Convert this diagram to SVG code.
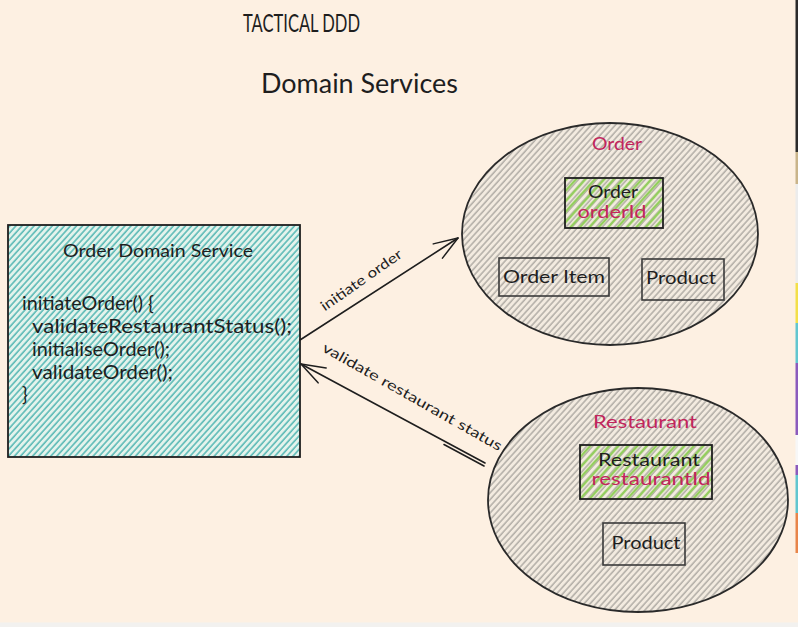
<svg xmlns="http://www.w3.org/2000/svg" width="798" height="627" viewBox="0 0 798 627">
  <defs>
    <pattern id="hTeal" width="4.5" height="4.5" patternUnits="userSpaceOnUse" patternTransform="rotate(42)">
      <rect width="4.5" height="4.5" fill="#e4f3ec"/>
      <line x1="1" y1="0" x2="1" y2="4.5" stroke="#5cbab6" stroke-width="1.6"/>
    </pattern>
    <pattern id="hGray" width="4.5" height="4.5" patternUnits="userSpaceOnUse" patternTransform="rotate(42)">
      <rect width="4.5" height="4.5" fill="#f3ebe0"/>
      <line x1="1" y1="0" x2="1" y2="4.5" stroke="#aca8a1" stroke-width="1.4"/>
    </pattern>
    <pattern id="hGreen" width="7" height="7" patternUnits="userSpaceOnUse" patternTransform="rotate(42)">
      <line x1="2" y1="0" x2="2" y2="7" stroke="#93cf5d" stroke-width="2.4"/>
    </pattern>
    <marker id="arr" markerUnits="userSpaceOnUse" markerWidth="30" markerHeight="24" refX="0" refY="0" viewBox="-28 -12 30 24" orient="auto" overflow="visible">
      <path d="M -24 -8.5 L 0 0 L -24 8.5" fill="none" stroke="#1e1e1e" stroke-width="1.5" stroke-linecap="round" stroke-linejoin="round"/>
    </marker>
    <style>
      .t { font-family: "Lato", "Liberation Sans", sans-serif; fill: #1e1e1e; }
      .code { font-size: 19px; }
      .red { fill: #c2255c; }
      .box { stroke: #1e1e1e; stroke-width: 1.8; }
      .sub { fill: none; stroke: #3a3a3a; stroke-width: 1.6; }
      .conn { fill: none; stroke: #1e1e1e; stroke-width: 1.6; stroke-linecap: round; }
    </style>
  </defs>

  <rect width="798" height="627" fill="#fdf0e2"/>
  <!-- screenshot edges -->
  <rect x="0" y="622.5" width="798" height="4.5" fill="#f2f1ef"/>
  <g id="edge-strip">
    <rect x="795.5" y="0" width="2.5" height="152" fill="#2b2b2b"/>
    <rect x="795.5" y="152" width="2.5" height="32" fill="#c9b48a"/>
    <rect x="795.5" y="184" width="2.5" height="99" fill="#ececec"/>
    <rect x="795.5" y="283" width="2.5" height="40" fill="#f3df4a"/>
    <rect x="795.5" y="323" width="2.5" height="40" fill="#62c6cf"/>
    <rect x="795.5" y="363" width="2.5" height="72" fill="#8b5bbd"/>
    <rect x="795.5" y="435" width="2.5" height="30" fill="#f7f7f7"/>
    <rect x="795.5" y="465" width="2.5" height="10" fill="#8b5bbd"/>
    <rect x="795.5" y="475" width="2.5" height="38" fill="#62c6cf"/>
    <rect x="795.5" y="513" width="2.5" height="40" fill="#e8854a"/>
  </g>

  <g id="title">
    <text class="t" x="243" y="32" font-size="25" textLength="117" lengthAdjust="spacingAndGlyphs">TACTICAL DDD</text>
  </g>
  <g id="subtitle">
    <text class="t" x="261" y="93" font-size="26" textLength="197" lengthAdjust="spacingAndGlyphs">Domain Services</text>
  </g>

  <g id="order-domain-service">
    <rect x="8" y="225" width="292" height="232" fill="url(#hTeal)" class="box"/>
    <text class="t" x="158" y="257" font-size="18" text-anchor="middle" textLength="190" lengthAdjust="spacingAndGlyphs">Order Domain Service</text>
    <text class="t code" x="22" y="310" textLength="132" lengthAdjust="spacingAndGlyphs">initiateOrder() {</text>
    <text class="t code" x="32" y="333" textLength="260" lengthAdjust="spacingAndGlyphs">validateRestaurantStatus();</text>
    <text class="t code" x="32" y="356" textLength="138" lengthAdjust="spacingAndGlyphs">initialiseOrder();</text>
    <text class="t code" x="32" y="379" textLength="141" lengthAdjust="spacingAndGlyphs">validateOrder();</text>
    <text class="t code" x="22" y="401">}</text>
  </g>

  <g id="order-aggregate">
    <ellipse cx="610" cy="234" rx="148" ry="111" fill="url(#hGray)" stroke="#2a2a2a" stroke-width="1.8"/>
    <text class="t red" x="617" y="150" font-size="17" text-anchor="middle" textLength="50" lengthAdjust="spacingAndGlyphs">Order</text>
    <g id="order-root">
      <rect x="565" y="178" width="98" height="50" fill="url(#hGreen)" class="box"/>
      <text class="t" x="613" y="198" font-size="17" text-anchor="middle" textLength="50" lengthAdjust="spacingAndGlyphs">Order</text>
      <text class="t red" x="612" y="218" font-size="17" text-anchor="middle" textLength="69" lengthAdjust="spacingAndGlyphs">orderId</text>
    </g>
    <g id="order-item">
      <rect x="499" y="258" width="110" height="38" class="sub"/>
      <text class="t" x="554" y="283" font-size="17" text-anchor="middle" textLength="102" lengthAdjust="spacingAndGlyphs">Order Item</text>
    </g>
    <g id="order-product">
      <rect x="642" y="259" width="82" height="41" class="sub"/>
      <text class="t" x="681" y="284" font-size="17" text-anchor="middle" textLength="70" lengthAdjust="spacingAndGlyphs">Product</text>
    </g>
  </g>

  <g id="restaurant-aggregate">
    <ellipse cx="638" cy="500" rx="150" ry="112" fill="url(#hGray)" stroke="#2a2a2a" stroke-width="1.8"/>
    <text class="t red" x="645" y="428" font-size="17" text-anchor="middle" textLength="104" lengthAdjust="spacingAndGlyphs">Restaurant</text>
    <g id="restaurant-root">
      <rect x="580" y="445" width="132" height="54" fill="url(#hGreen)" class="box"/>
      <text class="t" x="649" y="466" font-size="17" text-anchor="middle" textLength="102" lengthAdjust="spacingAndGlyphs">Restaurant</text>
      <text class="t red" x="651" y="485" font-size="17" text-anchor="middle" textLength="119" lengthAdjust="spacingAndGlyphs">restaurantId</text>
    </g>
    <g id="restaurant-product">
      <rect x="603" y="523" width="82" height="42" class="sub"/>
      <text class="t" x="646" y="549" font-size="17" text-anchor="middle" textLength="69" lengthAdjust="spacingAndGlyphs">Product</text>
    </g>
  </g>

  <g id="connectors">
    <path class="conn" d="M 300 340 L 458 238" marker-end="url(#arr)"/>
    <path class="conn" d="M 485 463 L 301 364" marker-end="url(#arr)"/>
    <path class="conn" d="M 484 466 L 444 444.5" stroke-width="1.1"/>
    <text class="t" font-size="14" text-anchor="middle" transform="translate(364 284) rotate(-35)" textLength="96" lengthAdjust="spacingAndGlyphs">initiate order</text>
    <text class="t" font-size="14" text-anchor="middle" transform="translate(410 401) rotate(29.5)" textLength="204" lengthAdjust="spacingAndGlyphs">validate restaurant status</text>
  </g>
</svg>
